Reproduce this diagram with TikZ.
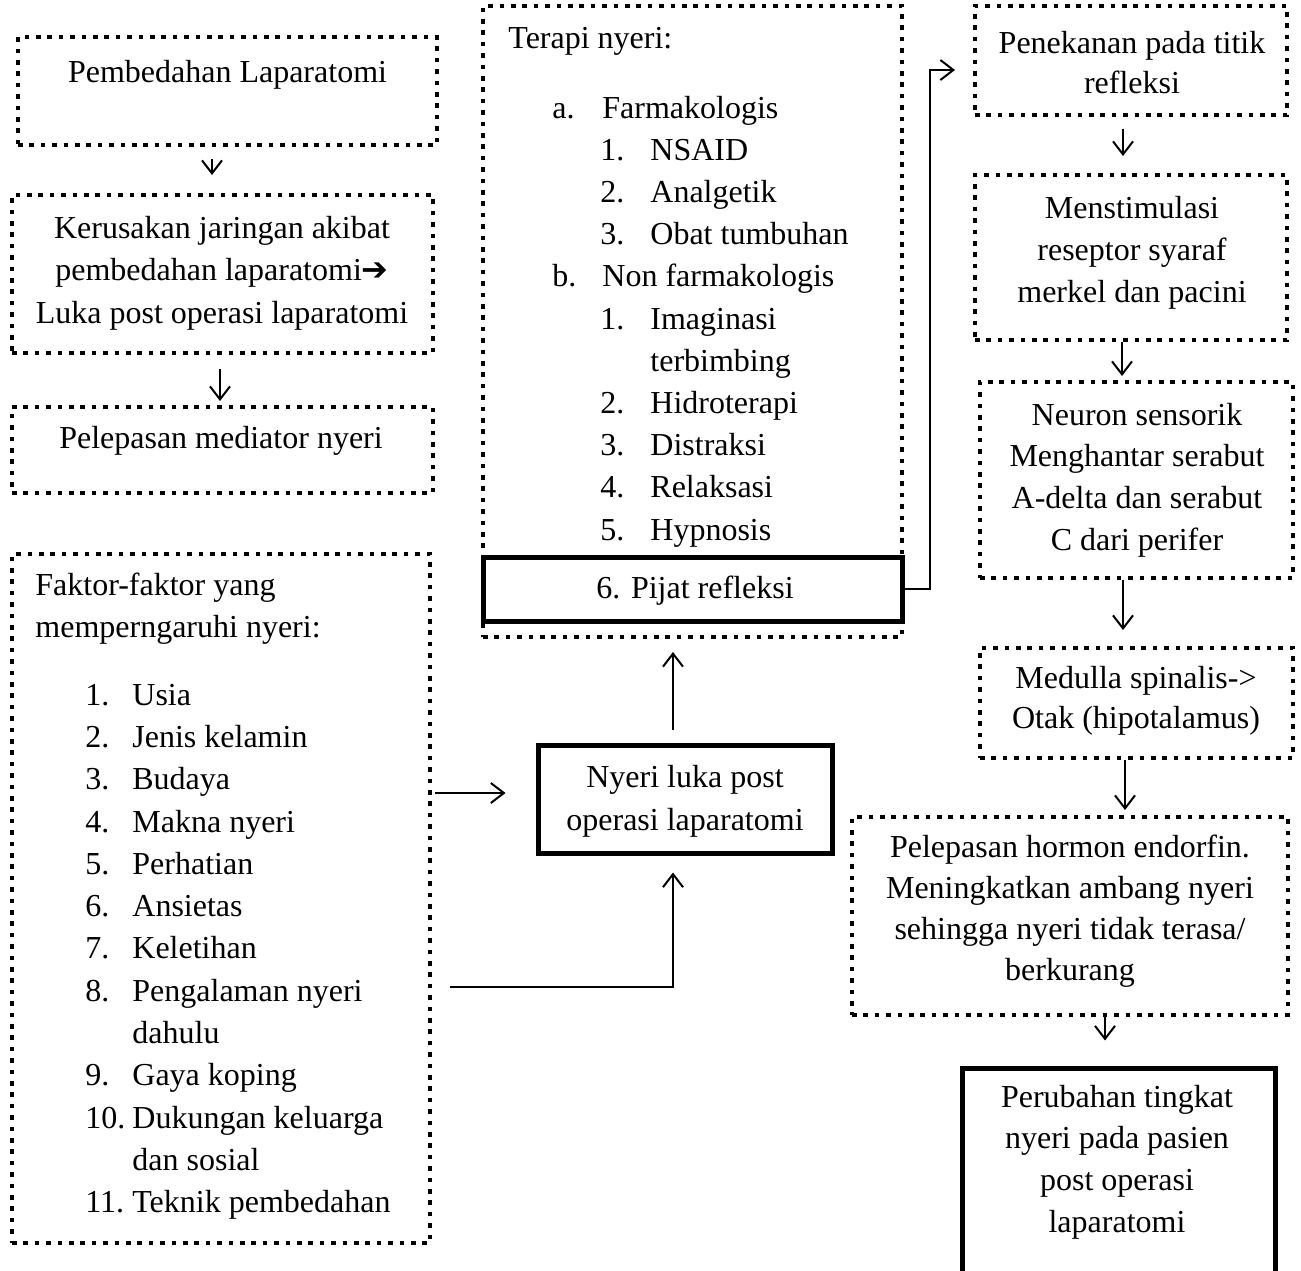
\documentclass[tikz,border=0pt]{standalone}
\usepackage{fontspec}
\setmainfont{Liberation Serif}
\newfontfamily\dejavu{DejaVu Sans}
\usetikzlibrary{arrows.meta}
\begin{document}
\begin{tikzpicture}[x=0.5pt,y=-0.5pt,
  dotbox/.style={draw, line width=2pt, dash pattern=on 2.3pt off 3.4pt, inner sep=0pt},
  solidbox/.style={draw, line width=2.5pt, inner sep=0pt},
  txt/.style={inner sep=0pt, font=\fontsize{16}{20}\selectfont},
  arr/.style={line width=1pt, -{Straight Barb[length=6.5pt,width=10pt,line width=1pt]}}]
\fill[white] (0,0) rectangle (1301,1270);
\clip (0,0) rectangle (1301,1270);

% ---- boxes ----
\node[dotbox, minimum width=209.5pt, minimum height=54pt] (A) at (227.5,91) {};
\node[dotbox, minimum width=210.5pt, minimum height=79pt] (B) at (222.5,274) {};
\node[dotbox, minimum width=210.5pt, minimum height=43pt] (C) at (222.5,450) {};
\node[dotbox, minimum width=209pt, minimum height=344.5pt] (D) at (221,898.5) {};
\node[dotbox, minimum width=209.5pt, minimum height=315.5pt] (E) at (692.5,321.5) {};
\node[solidbox, minimum width=209.5pt, minimum height=32pt] (P) at (692.5,589) {};
\node[dotbox, minimum width=156pt, minimum height=54.5pt] (F) at (1131,60.5) {};
\node[dotbox, minimum width=156pt, minimum height=82.5pt] (G) at (1131,257.5) {};
\node[dotbox, minimum width=156.5pt, minimum height=98pt] (H) at (1136.5,480) {};
\node[dotbox, minimum width=156.5pt, minimum height=55pt] (I) at (1136.5,703) {};
\node[dotbox, minimum width=218pt, minimum height=99pt] (J) at (1070,916) {};
\node[solidbox, minimum width=156.5pt, minimum height=116pt] (K) at (1118.5,1184) {};
\node[solidbox, minimum width=147pt, minimum height=54pt] (L) at (685,799) {};

% ---- texts ----
\node[txt, anchor=base] (ta) at (227.5,82) {Pembedahan Laparatomi};
\foreach \s [count=\i from 0] in {Kerusakan jaringan akibat, pembedahan laparatomi{\dejavu\symbol{"2794}}, Luka post operasi laparatomi}
  \node[txt, anchor=base] (tb\i) at (222,{238+42.5*\i}) {\s};
\node[txt, anchor=base] (tc) at (221,448) {Pelepasan mediator nyeri};

\node[txt, anchor=base west] (td0) at (35,595) {Faktor-faktor yang};
\node[txt, anchor=base west] (td1) at (35,637) {memperngaruhi nyeri:};
\foreach \n/\s/\k in {1./Usia/0, 2./Jenis kelamin/1, 3./Budaya/2, 4./Makna nyeri/3, 5./Perhatian/4, 6./Ansietas/5, 7./Keletihan/6, 8./Pengalaman nyeri/7, {}/dahulu/8, 9./Gaya koping/9, 10./Dukungan keluarga/10, {}/dan sosial/11, 11./Teknik pembedahan/12}{
  \node[txt, anchor=base west] (fn\k) at (85,{705+42.33*\k}) {\n};
  \node[txt, anchor=base west] (fe\k) at (132,{705+42.33*\k}) {\s};
}

\node[txt, anchor=base west] (te) at (508,48) {Terapi nyeri:};
\foreach \n/\x/\s/\k in {a./552/Farmakologis/0, 1./600/NSAID/1, 2./600/Analgetik/2, 3./600/Obat tumbuhan/3, b./552/Non farmakologis/4, 1./600/Imaginasi/5, {}/600/terbimbing/6, 2./600/Hidroterapi/7, 3./600/Distraksi/8, 4./600/Relaksasi/9, 5./600/Hypnosis/10}{
  \node[txt, anchor=base west] (tl\k) at (\x,{118+42.2*\k}) {\n};
  \node[txt, anchor=base west] (tt\k) at ({\x+50},{118+42.2*\k}) {\s};
}
\node[txt, anchor=base] (tp) at (695,598) {6. Pijat refleksi};

\foreach \s [count=\i from 0] in {Penekanan pada titik, refleksi}
  \node[txt, anchor=base] (tf\i) at (1132,{53+40.5*\i}) {\s};
\foreach \s [count=\i from 0] in {Menstimulasi, reseptor syaraf, merkel dan pacini}
  \node[txt, anchor=base] (tg\i) at (1132,{218+42*\i}) {\s};
\foreach \s [count=\i from 0] in {Neuron sensorik, Menghantar serabut, A-delta dan serabut, C dari perifer}
  \node[txt, anchor=base] (th\i) at (1137,{425+41.7*\i}) {\s};
\foreach \s [count=\i from 0] in {Medulla spinalis->, Otak (hipotalamus)}
  \node[txt, anchor=base] (ti\i) at (1136,{688+40*\i}) {\s};
\foreach \s [count=\i from 0] in {Pelepasan hormon endorfin., Meningkatkan ambang nyeri, sehingga nyeri tidak terasa/, berkurang}
  \node[txt, anchor=base] (tj\i) at (1070,{857+41*\i}) {\s};
\foreach \s [count=\i from 0] in {Perubahan tingkat, nyeri pada pasien, post operasi, laparatomi}
  \node[txt, anchor=base] (tk\i) at (1117,{1107+41.7*\i}) {\s};
\node[txt, anchor=base] (tl0x) at (685,787) {Nyeri luka post};
\node[txt, anchor=base] (tl1x) at (685,830) {operasi laparatomi};

% ---- connector coordinates ----
\coordinate (xab) at (212,0);
\coordinate (xbc) at (220,0);
\coordinate (xfg) at (1123,0);
\coordinate (xgh) at (1122,0);
\coordinate (xhi) at (1123,0);
\coordinate (xij) at (1125,0);
\coordinate (xjk) at (1105,0);
\coordinate (xle) at (673,0);
\coordinate (ydl) at (0,793);
\coordinate (c1) at (673,987);
\coordinate (c2) at (930,70);

% ---- connectors ----
\draw[arr, shorten <=6pt, shorten >=9pt] (A.south -| xab) -- (B.north -| xab);
\draw[arr, shorten <=7pt, shorten >=2pt] (B.south -| xbc) -- (C.north -| xbc);
\draw[arr, shorten <=6pt, shorten >=8.5pt] (F.south -| xfg) -- (G.north -| xfg);
\draw[arr, shorten >=2pt] (G.south -| xgh) -- (H.north -| xgh);
\draw[arr, shorten >=8pt] (H.south -| xhi) -- (I.north -| xhi);
\draw[arr, shorten >=2.5pt] (I.south -| xij) -- (J.north -| xij);
\draw[arr, shorten >=12.5pt] (J.south -| xjk) -- (K.north -| xjk);
\draw[arr, shorten <=6.5pt, shorten >=6.5pt] (L.north -| xle) -- (E.south -| xle);
\draw[arr, shorten <=1.5pt, shorten >=15pt] (D.east |- ydl) -- (L.west |- ydl);
\draw[arr, shorten <=9pt, shorten >=8.5pt] (D.east |- c1) -| (L.south -| c1);
\draw[arr, shorten >=9pt] (P.east) -| (c2) -- (F.west |- c2);
\end{tikzpicture}
\end{document}
